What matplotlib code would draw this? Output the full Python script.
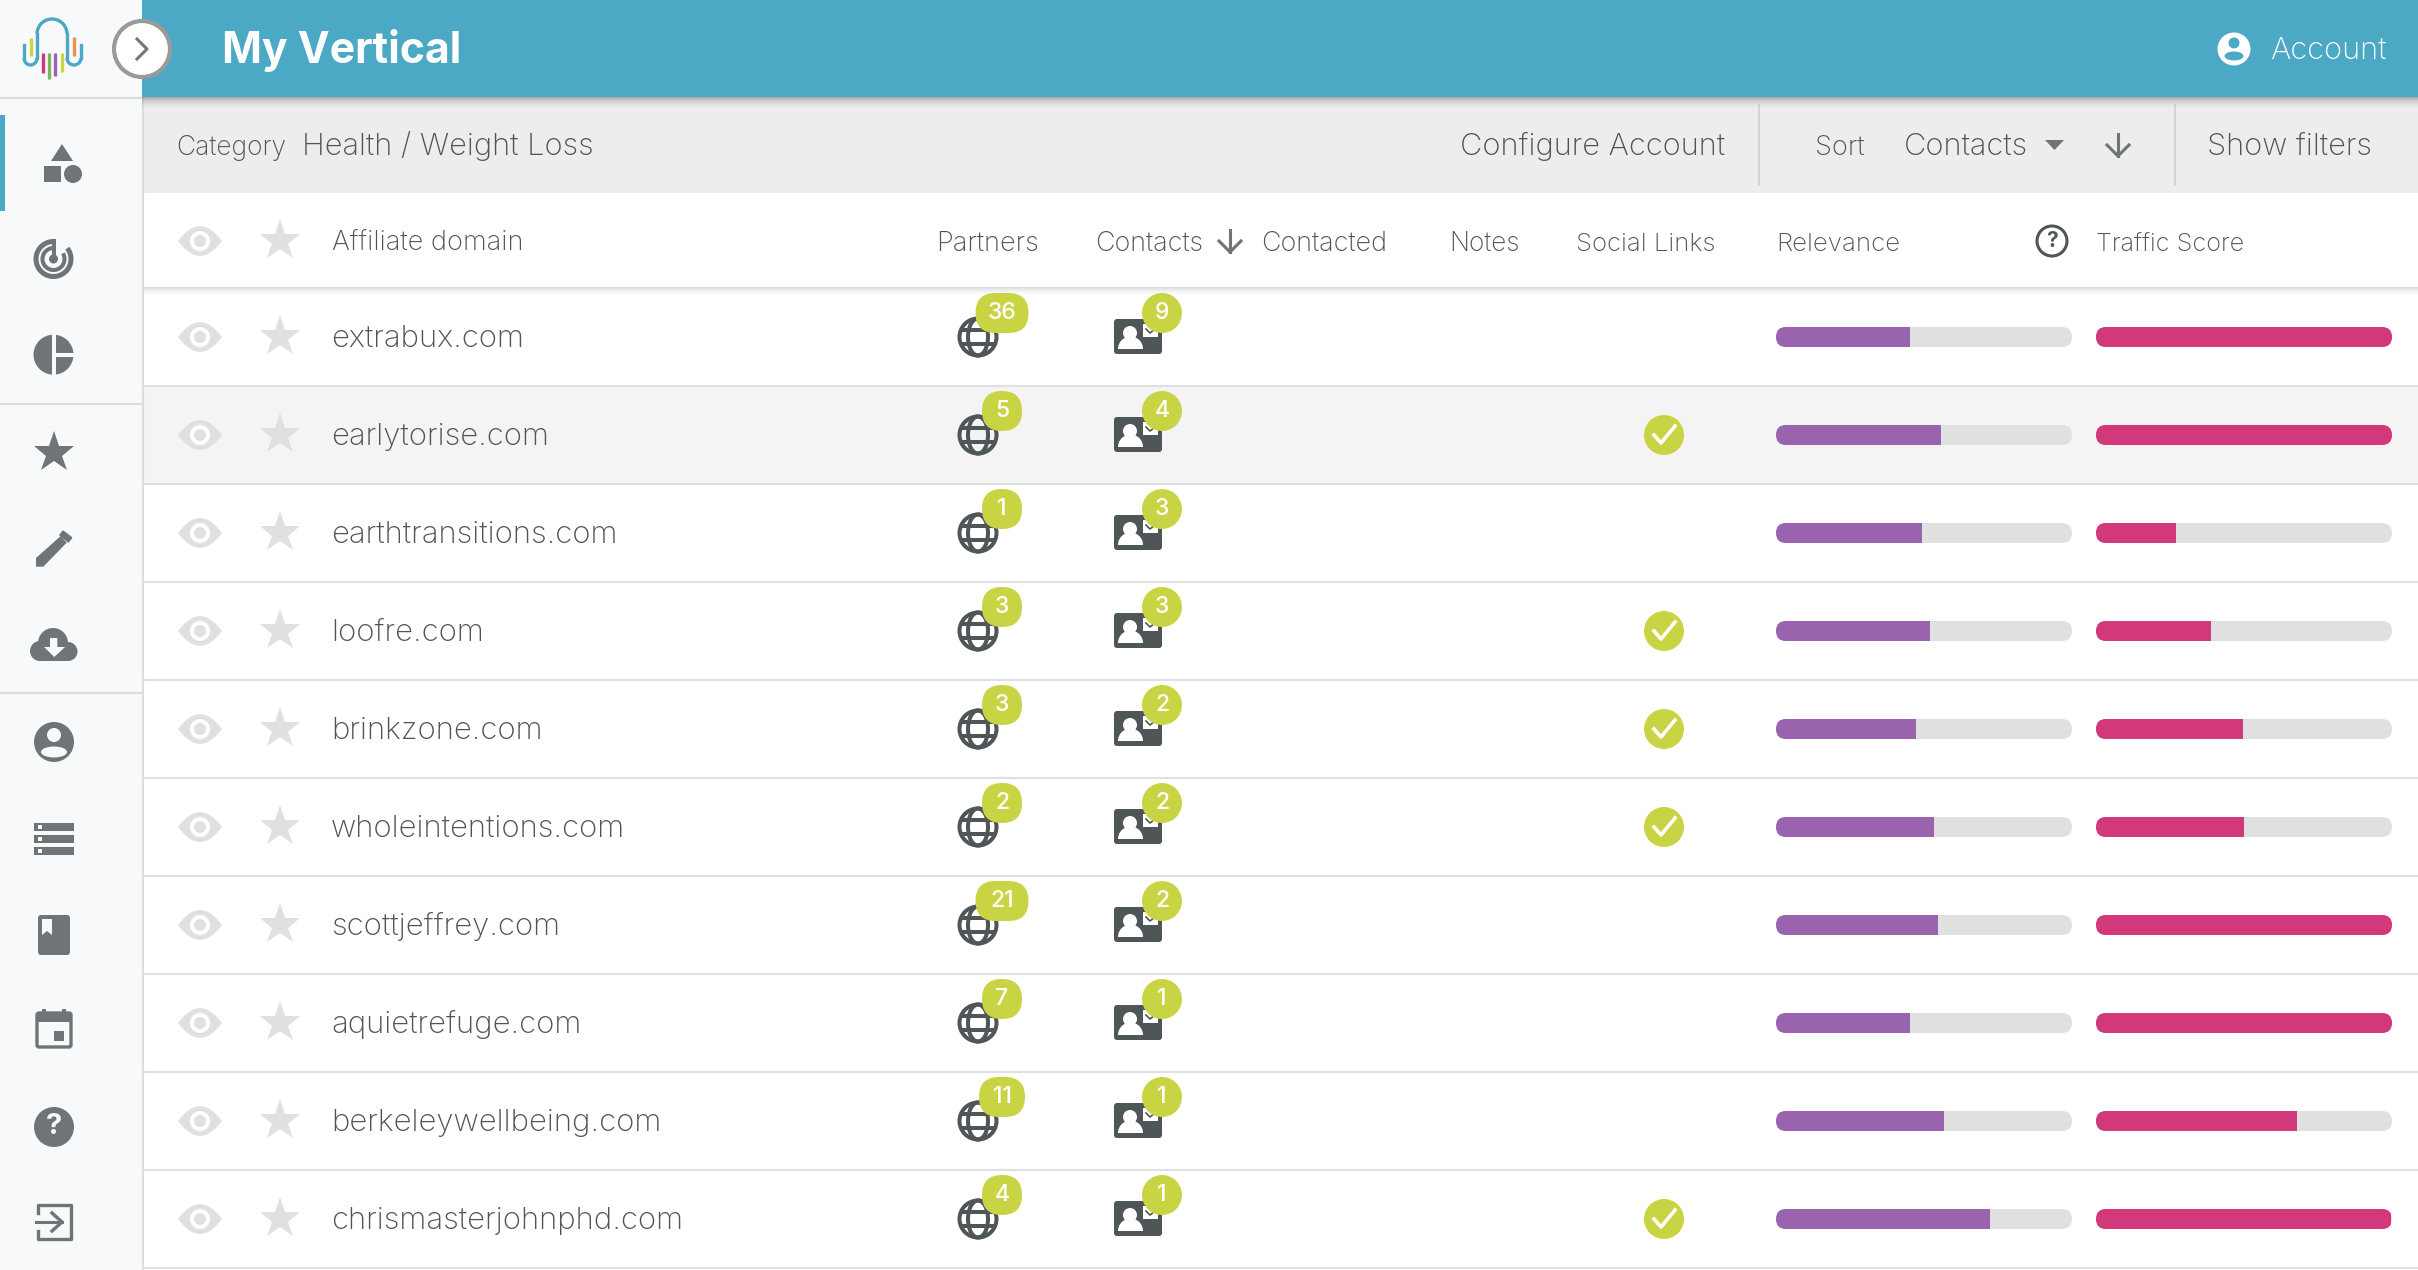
import matplotlib.pyplot as plt
import matplotlib.patches as mp

plt.rcParams["font.family"] = ["Inter", "DejaVu Sans"]

domains = ["extrabux.com", "earlytorise.com", "earthtransitions.com", "loofre.com", "brinkzone.com",
           "wholeintentions.com", "scottjeffrey.com", "aquietrefuge.com", "berkeleywellbeing.com",
           "chrismasterjohnphd.com"]
partners = [36, 5, 1, 3, 3, 2, 21, 7, 11, 4]
contacts = [9, 4, 3, 3, 2, 2, 2, 1, 1, 1]
social = [0, 1, 0, 1, 1, 1, 0, 0, 0, 1]
relevance = [45.2, 55.6, 49.4, 52, 47.3, 53.5, 54.7, 45.2, 56.7, 72.3]
traffic = [100, 100, 27, 39, 49.5, 50, 100, 100, 68, 99.5]
row_y = [336 + 98 * i for i in range(len(domains))]

teal = "#4ca9c5"
lime = "#c9d444"
dark = "#4f5658"
icon = "#6f7476"
soft = "#e0e0e0"
side = "#f8f9fb"
text_col = "#4f5456"

plt.figure(figsize=(24.18, 12.7), dpi=100)
bg = plt.axes([0, 0, 1, 1])
plt.xlim(0, 2418)
plt.ylim(1269, -1)
plt.axis("off")

# page areas
bg.add_patch(mp.Rectangle((0, -1), 143, 1271, fc=side, ec="none"))
bg.add_patch(mp.Rectangle((143, 96), 2275, 96, fc="#ededed", ec="none"))
bg.add_patch(mp.Rectangle((143, 386), 2275, 96, fc="#f4f4f4", ec="none"))
bg.add_patch(mp.Rectangle((142, -1), 2276, 97, fc=teal, ec="none", zorder=4))
for i in range(12):  # header shadow
    bg.add_patch(mp.Rectangle((142, 96 + i), 2276, 1, fc="#777777", ec="none", alpha=0.55 * (1 - i / 12) ** 2, zorder=4))
for i in range(9):  # column header shadow
    bg.add_patch(mp.Rectangle((143, 286 + i), 2275, 1, fc="#888888", ec="none", alpha=0.3 * (1 - i / 9) ** 2))
plt.plot([143, 143], [96, 1270], color="#dddddd", lw=1.5)
for y in [97, 403, 692]:
    plt.plot([0, 142], [y, y], color="#dcdcdc", lw=1.5)
for y in row_y:
    plt.plot([143, 2418], [y + 48.5, y + 48.5], color=soft, lw=1.5)
for x in [1759, 2175]:
    plt.plot([x, x], [104, 184], color="#cfcfcf", lw=1.2)
bg.add_patch(mp.Rectangle((0, 114), 5, 96, fc=teal, ec="none"))

# logo
bg.add_patch(mp.Arc((52, 33), 30, 30, theta1=180, theta2=360, color=teal, lw=2.4))
plt.plot([37, 37], [33, 57], color=teal, lw=2.4)
plt.plot([67, 67], [33, 57], color=teal, lw=2.4)
plt.plot([24, 24], [44, 57], color=teal, lw=2.4)
plt.plot([81, 81], [44, 57], color=teal, lw=2.4)
bg.add_patch(mp.Arc((30.5, 57), 13, 14, theta1=0, theta2=180, color=teal, lw=2.4))
bg.add_patch(mp.Arc((74, 57), 14, 14, theta1=0, theta2=180, color=teal, lw=2.4))
for x, y0, y1, c in [(31, 37, 55, lime), (74, 36, 55, "#ec9155"), (43, 52, 72, "#d2397a"), (49, 52, 78, "#7cb55c"),
                     (55, 52, 75, "#9b62ae"), (62, 52, 71, lime)]:
    plt.plot([x, x], [y0, y1], color=c, lw=2.4, solid_capstyle="butt")

# toggle
bg.add_patch(mp.Circle((142, 48), 28, fc="white", ec="#9a9a9a", lw=3, zorder=6))
plt.plot([137, 147, 137], [38, 48, 58], color="#777777", lw=2.2, zorder=7)

# title bar
plt.text(222, 62, "My Vertical", color="white", fontsize=30.8, fontweight="bold", zorder=6)
bg.add_patch(mp.Circle((2234, 48), 16.5, fc="white", ec="none", zorder=6))
bg.add_patch(mp.Circle((2234, 42), 5.5, fc=teal, ec="none", zorder=7))
bg.add_patch(mp.Ellipse((2234, 55), 19, 9, fc=teal, ec="none", zorder=7))
plt.text(2270, 58, "Account", color="white", fontsize=22.2, fontweight="light", zorder=6)

# toolbar
plt.text(176, 154, "Category", color=text_col, fontsize=19, fontweight="light")
plt.text(302, 154, "Health / Weight Loss", color=text_col, fontsize=22.2, fontweight="light")
plt.text(1460, 154, "Configure Account", color=text_col, fontsize=22.2, fontweight="light")
plt.text(1815, 154, "Sort", color=text_col, fontsize=19.7, fontweight="light")
plt.text(1904, 154, "Contacts", color=text_col, fontsize=22.2, fontweight="light")
bg.add_patch(mp.Polygon([(2045, 139), (2064, 139), (2054.5, 149)], fc=icon, ec="none"))
plt.plot([2118, 2118], [133, 155], color=icon, lw=2.2)
plt.plot([2107, 2118, 2129], [144, 155, 144], color=icon, lw=2.2)
plt.text(2207, 154, "Show filters", color=text_col, fontsize=22.2, fontweight="light")

# column headers
for x, label, size in [(332, "Affiliate domain", 19.6), (936, "Partners", 19.6), (1095, "Contacts", 19.4),
                       (1261, "Contacted", 19.4), (1449, "Notes", 18.8), (1576, "Social Links", 18.5),
                       (1776, "Relevance", 18.6), (2096, "Traffic Score", 18.2)]:
    plt.text(x, 250, label, color=text_col, fontsize=size, fontweight="light")
plt.plot([1230, 1230], [229, 251], color=icon, lw=2.2)
plt.plot([1219, 1230, 1241], [240, 251, 240], color=icon, lw=2.2)
bg.add_patch(mp.Circle((2052, 240), 15, fc="none", ec=dark, lw=2.2))
plt.text(2052, 240, "?", color=dark, fontsize=15, fontweight="bold", ha="center", va="center")

# eye and star on every row
for y in [240] + row_y:
    path = mp.Path([(178, y), (200, y - 30), (222, y), (200, y + 30), (178, y)],
                   [mp.Path.MOVETO, mp.Path.CURVE3, mp.Path.CURVE3, mp.Path.CURVE3, mp.Path.CURVE3])
    bg.add_patch(mp.PathPatch(path, fc=soft, ec="none"))
    bg.add_patch(mp.Circle((200, y), 10, fc="white", ec="none"))
    bg.add_patch(mp.Circle((200, y), 6, fc=soft, ec="none"))
    plt.plot(280, y, marker="*", ms=31, color=soft, mew=0)

# table rows
for i, y in enumerate(row_y):
    plt.text(331, y + 10, domains[i], color=text_col, fontsize=22.4, fontweight="light")

    # globe
    bg.add_patch(mp.Circle((978, y), 18.5, fc="none", ec=dark, lw=2.9))
    bg.add_patch(mp.Ellipse((978, y), 20, 37, fc="none", ec=dark, lw=2.9))
    plt.plot([961, 995], [y - 7, y - 7], color=dark, lw=2.9, solid_capstyle="butt")
    plt.plot([961, 995], [y + 7, y + 7], color=dark, lw=2.9, solid_capstyle="butt")
    w = 53 if partners[i] > 11 else (46 if partners[i] > 9 else 40)
    bg.add_patch(mp.FancyBboxPatch((1002 - w / 2 + 20, y - 24), w - 40, 0, boxstyle="round,pad=20,rounding_size=20",
                                   fc=lime, ec="none", zorder=5))
    plt.text(1002, y - 24, str(partners[i]), color="white", fontsize=16.5, fontweight="medium", ha="center", va="center", zorder=6)

    # contact card
    bg.add_patch(mp.FancyBboxPatch((1116, y - 16), 44, 31, boxstyle="round,pad=2,rounding_size=3", fc=dark, ec="none"))
    bg.add_patch(mp.Circle((1130, y - 4), 7, fc="white", ec="none", zorder=3))
    bg.add_patch(mp.Wedge((1130.5, y + 12), 12.5, 180, 360, fc="white", ec="none", zorder=3))
    bg.add_patch(mp.Rectangle((1143, y - 13), 15, 13, fc="white", ec="none", zorder=3))
    plt.plot([1146, 1150, 1155], [y - 8, y - 4, y - 8], color=dark, lw=1.2, zorder=4)
    bg.add_patch(mp.Circle((1162, y - 24), 20, fc=lime, ec="none", zorder=5))
    plt.text(1162, y - 24, str(contacts[i]), color="white", fontsize=16.5, fontweight="medium", ha="center", va="center", zorder=6)

    # social links
    if social[i]:
        bg.add_patch(mp.Circle((1664, y), 20, fc=lime, ec="none"))
        plt.plot([1654, 1661, 1675], [y, y + 8, y - 9], color="white", lw=2.6, zorder=3)

# sidebar icons
bg.add_patch(mp.Polygon([(62, 143), (73, 160), (51, 160)], fc=icon, ec="none"))
bg.add_patch(mp.Rectangle((44, 165), 17, 16, fc=icon, ec="none"))
bg.add_patch(mp.Circle((73, 173), 9, fc=icon, ec="none"))

bg.add_patch(mp.Arc((53.5, 258), 35, 35, theta1=-38, theta2=275, color=icon, lw=3.6))
bg.add_patch(mp.Arc((53.5, 258), 22, 22, theta1=-31, theta2=275, color=icon, lw=2.9))
bg.add_patch(mp.Circle((53.5, 258), 4.5, fc=icon, ec="none"))
plt.plot([53.5, 53.5], [238, 258], color=icon, lw=2.9, solid_capstyle="butt")

bg.add_patch(mp.Circle((53.5, 353.7), 20, fc=icon, ec="none"))
plt.plot([54, 54], [332, 375], color=side, lw=2.9, solid_capstyle="butt")
plt.plot([54, 75], [353.7, 353.7], color=side, lw=2.9, solid_capstyle="butt")

plt.plot(54, 452, marker="*", ms=31, color=icon, mew=0)

bg.add_patch(mp.Polygon([(36, 557), (60.7, 535), (66.7, 541.7), (43.3, 565.7), (36, 565.7)], fc=icon, ec="none"))
bg.add_patch(mp.Polygon([(63, 530), (71.7, 536.7), (68.3, 541), (60, 534)], fc=icon, ec=icon, lw=1))

bg.add_patch(mp.Circle((53, 642), 15, fc=icon, ec="none"))
bg.add_patch(mp.Circle((40, 650), 10, fc=icon, ec="none"))
bg.add_patch(mp.Circle((68, 650.5), 9.5, fc=icon, ec="none"))
bg.add_patch(mp.Rectangle((40, 645), 28, 15, fc=icon, ec="none"))
bg.add_patch(mp.Polygon([(50, 637), (57.3, 637), (57.3, 646), (65, 646), (54.3, 656), (44, 646), (50, 646)], fc=side, ec="none"))

bg.add_patch(mp.Circle((54, 741), 20, fc=icon, ec="none"))
bg.add_patch(mp.Circle((54, 734), 7, fc=side, ec="none"))
bg.add_patch(mp.Ellipse((54, 751), 26, 11, fc=side, ec="none"))

for y in [826, 838, 850]:
    bg.add_patch(mp.Rectangle((34, y - 4), 40, 8, fc=icon, ec="none"))
    bg.add_patch(mp.Rectangle((38, y - 2), 4, 4, fc=side, ec="none"))

bg.add_patch(mp.FancyBboxPatch((40, 916), 28, 36, boxstyle="round,pad=2,rounding_size=3", fc=icon, ec="none"))
bg.add_patch(mp.Polygon([(42, 918), (52, 918), (52, 934), (47, 930), (42, 934)], fc=side, ec="none"))

bg.add_patch(mp.FancyBboxPatch((38, 1013), 32, 32, boxstyle="round,pad=1,rounding_size=2", fc="none", ec=icon, lw=2.4))
bg.add_patch(mp.Rectangle((37, 1012), 34, 9, fc=icon, ec="none"))
bg.add_patch(mp.Rectangle((42, 1008), 4, 6, fc=icon, ec="none"))
bg.add_patch(mp.Rectangle((62, 1008), 4, 6, fc=icon, ec="none"))
bg.add_patch(mp.Rectangle((54, 1030), 10, 10, fc=icon, ec="none"))

bg.add_patch(mp.Circle((54, 1126), 20, fc=icon, ec="none"))
plt.text(54, 1126, "?", color=side, fontsize=21, fontweight="bold", ha="center", va="center")

plt.plot([38, 38, 71, 71, 38, 38], [1212, 1204, 1204, 1238, 1238, 1230], color=icon, lw=2.4)
plt.plot([36, 62], [1221, 1221], color=icon, lw=2.2)
plt.plot([52, 62, 52], [1212, 1221, 1230], color=icon, lw=2.4)

# score bars
for left, values, fill in [(1776, relevance, "#9a63ae"), (2096, traffic, "#d1397a")]:
    plt.axes([left / 2418, 0, 296 / 2418, 1])
    plt.xlim(0, 100)
    plt.ylim(1269, -1)
    plt.axis("off")
    for y, value in zip(row_y, values):
        clip = mp.FancyBboxPatch((left + 10, y), 276, 0, boxstyle="round,pad=10,rounding_size=10", transform=bg.transData)
        for bar in plt.barh(y, 100, height=20, color=soft):
            bar.set_clip_path(clip)
        for bar in plt.barh(y, value, height=20, color=fill):
            bar.set_clip_path(clip)

plt.savefig("out.png", dpi=100)
